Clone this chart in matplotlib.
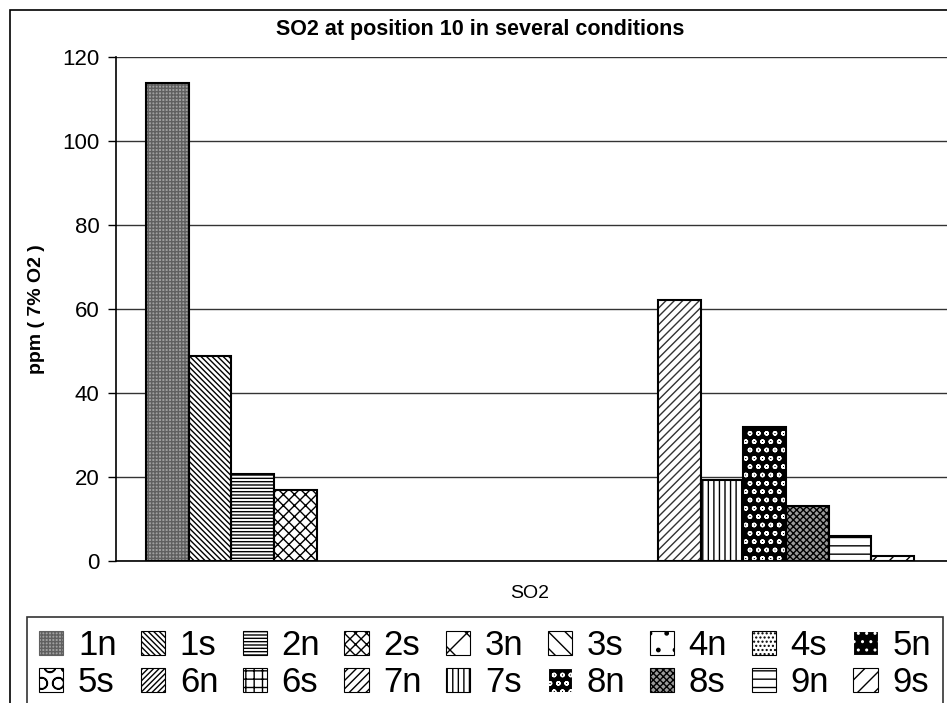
import matplotlib

matplotlib.use("Agg")
import matplotlib.pyplot as plt
import numpy as np
from matplotlib.patches import Patch, Rectangle

# data
labels = ["1n", "1s", "2n", "2s", "3n", "3s", "4n", "4s", "5n",
          "5s", "6n", "6s", "7n", "7s", "8n", "8s", "9n", "9s"]
values = [113.8, 48.8, 20.8, 17.0, 0, 0, 0, 0, 0,
          0, 0, 0, 62.2, 19.4, 32.0, 13.2, 6.0, 1.1]
yticks = [0, 20, 40, 60, 80, 100, 120]

# (facecolor, hatch colour, hatch) per series
styles = [
    ("#a0a0a0", "#606060", "+++++"),
    ("white", "black", "\\\\\\\\\\\\"),
    ("white", "black", "-----"),
    ("white", "black", "xxx"),
    ("white", "black", "x"),
    ("white", "black", "\\\\"),
    ("white", "black", "."),
    ("white", "black", "...."),
    ("black", "white", ".."),
    ("white", "black", "O"),
    ("white", "black", "//////"),
    ("white", "black", "++"),
    ("white", "#333333", "////"),
    ("white", "black", "|||"),
    ("black", "white", "oo"),
    ("#9a9a9a", "black", "xxxxx"),
    ("white", "black", "--"),
    ("white", "black", "//"),
]

plt.rcParams["font.family"] = ["Liberation Sans", "DejaVu Sans"]
plt.rcParams["hatch.linewidth"] = 1.0

fig = plt.figure(figsize=(9.47, 7.03), dpi=100)
ax = fig.add_axes([116 / 947, 1 - 561 / 703, 831 / 947, (561 - 57) / 703])

x = np.arange(len(labels))
for xi, v, (fc, hc, h) in zip(x, values, styles):
    if v <= 0:
        continue
    ax.bar(xi, v, width=1.0, facecolor=fc, edgecolor=hc, hatch=h, linewidth=0, zorder=3)
    ax.bar(xi, v, width=1.0, fill=False, edgecolor="black", linewidth=1.5, zorder=4)

ax.set_xlim(-1.2, 18.27)
ax.set_ylim(0, 120)
ax.set_yticks(yticks)
ax.tick_params(axis="y", labelsize=16, length=6, width=1, direction="out", pad=6)
ax.set_xticks([])
ax.yaxis.grid(True, color="#333333", linewidth=1)
ax.set_axisbelow(True)
for s in ["top", "right"]:
    ax.spines[s].set_visible(False)
ax.spines["left"].set_linewidth(1.2)
ax.spines["bottom"].set_linewidth(1.2)

ax.set_ylabel("ppm ( 7% O2 )", fontsize=14, fontweight="bold", labelpad=12)
fig.text(530 / 947, 1 - 593 / 703, "SO2", fontsize=14, ha="center", va="center")
fig.text(480 / 947, 1 - 30 / 703, "SO2 at position 10 in several conditions",
         fontsize=15.5, fontweight="bold", ha="center", va="center")

# chart area border (cut off at right and bottom in the reference)
fig.patches.append(Rectangle((10 / 947, -0.05), 1.0, 1 - 10 / 703 + 0.05,
                             transform=fig.transFigure, fill=False,
                             edgecolor="black", linewidth=1.2))

handles = [Patch(facecolor=fc, edgecolor=hc if fc != "white" else "black", hatch=h, linewidth=0.8)
           for fc, hc, h in styles]
# legend is filled row by row in the reference
order = [i + r * 9 for i in range(9) for r in range(2)]
leg = fig.legend([handles[i] for i in order], [labels[i] for i in order],
                 loc="upper left", bbox_to_anchor=(27 / 947, 1 - 617 / 703),
                 ncol=9, fontsize=25, frameon=True, fancybox=False, edgecolor="black",
                 handlelength=0.7, handleheight=0.7, handletextpad=0.42, columnspacing=0.7,
                 labelspacing=0.12, borderpad=0.35, borderaxespad=0)
leg.get_frame().set_linewidth(1.2)

fig.savefig("out.png", dpi=100)
